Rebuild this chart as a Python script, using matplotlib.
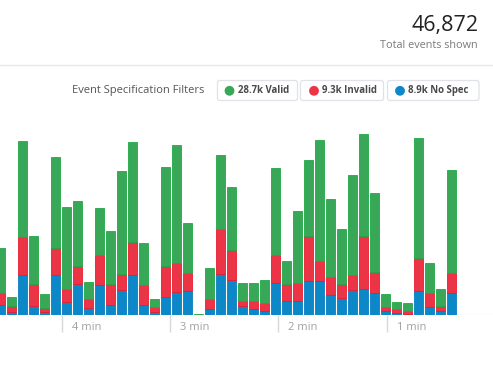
"""Stacked event bars by time, valid / invalid / no spec."""
import matplotlib.pyplot as plt
import numpy as np
from matplotlib.patches import FancyBboxPatch, Circle
from matplotlib.transforms import blended_transform_factory

plt.rcParams['font.family'] = ['Open Sans', 'DejaVu Sans']

# Events per time bucket (oldest on the left)
no_spec = [120, 40, 480, 108, 40, 480, 152, 368, 80, 356, 120, 300, 480, 120,
           40, 220, 272, 284, 0, 68, 492, 420, 108, 68, 52, 380, 172, 172, 408,
           408, 244, 200, 300, 308, 260, 48, 28, 12, 284, 92, 48, 260]
invalid = [140, 68, 452, 260, 41, 328, 160, 220, 108, 367, 248, 192, 392, 240,
           53, 368, 348, 216, 0, 120, 536, 360, 64, 103, 96, 343, 197, 209, 536,
           244, 209, 168, 176, 640, 259, 44, 41, 40, 403, 168, 60, 240]
valid = [547, 104, 1159, 583, 175, 1092, 984, 780, 204, 560, 643, 1240, 1207,
         508, 96, 1192, 1420, 607, 16, 372, 888, 760, 216, 216, 272, 1040, 280,
         868, 916, 1448, 943, 667, 1207, 1224, 941, 163, 88, 96, 1433, 367, 200,
         1236]

tick_labels = ['4 min', '3 min', '2 min', '1 min']
tick_pos = [5.56, 15.41, 25.2, 35.1]

total_text = '46,872'
filter_labels = ['28.7k Valid', '9.3k Invalid', '8.9k No Spec']

GREEN, GREEN_E = '#38a757', '#1faa45'
RED, RED_E = '#ec3447', '#e81c30'
BLUE, BLUE_E = '#0c88c9', '#0a7fc0'

fig = plt.figure(figsize=(4.93, 3.65), dpi=100)

# overlay in pixel coordinates for the header stuff
ov = fig.add_axes([0, 0, 1, 1])
ov.set_xlim(0, 493)
ov.set_ylim(365, 0)
ov.axis('off')

ov.text(478, 25, total_text, ha='right', va='center', fontsize=15.5,
        color='#222222')
ov.text(478, 45, 'Total events shown', ha='right', va='center',
        fontsize=7.8, color='#7a7a7a')
ov.plot([0, 493], [64.5, 64.5], color='#e5e7ea', lw=1)

ov.text(72.5, 90.5, 'Event Specification Filters', ha='left', va='center',
        fontsize=8.0, color='#555555')

boxes = [(217.5, 297.5), (300.5, 383.5), (387.5, 479)]
dots = [(229.5, GREEN), (314, RED), (400, BLUE)]
for (x0, x1), (cx, col), lab in zip(boxes, dots, filter_labels):
    ov.add_patch(FancyBboxPatch((x0, 80.5), x1 - x0, 20,
                                boxstyle='round,pad=0,rounding_size=2.5',
                                fc='white', ec='#dfe3e8', lw=0.9))
    ov.add_patch(Circle((cx, 90.8), 4.2, color=col))
    ov.text(cx + 8.3, 90.8, lab, ha='left', va='center', fontsize=6.9,
            fontweight='bold', color='#4a4a4a')

# bar chart
ax = fig.add_axes([0, 50 / 365, 1, 185 / 365])
x = np.arange(len(valid))
nb = np.array(no_spec)
inv = np.array(invalid)
val = np.array(valid)
w = 9 / 11

ax.bar(x, nb, w, color=BLUE, edgecolor=BLUE_E, lw=0.6)
ax.bar(x, inv, w, bottom=nb, color=RED, edgecolor=RED_E, lw=0.6)
ax.bar(x, val, w, bottom=nb + inv, color=GREEN, edgecolor=GREEN_E, lw=0.6)

ax.set_xlim(-0.5 / 11, 492.5 / 11)
ax.set_ylim(0, 185 * 12)
ax.axhline(0, color='#eeeeee', lw=1, zorder=0)
for s in ax.spines.values():
    s.set_visible(False)
ax.set_yticks([])
ax.set_xticks(tick_pos)
ax.set_xticklabels([])
ax.tick_params(axis='x', length=12.5, width=1, color='#d8d8d8', pad=0)

trans = blended_transform_factory(ax.transData, ax.transAxes)
for p, lab in zip(tick_pos, tick_labels):
    ax.text(p + 10 / 11, -12.5 / 185, lab, transform=trans, ha='left',
            va='center', fontsize=8, color='#a0a0a0')

fig.savefig('out.png', dpi=100)
